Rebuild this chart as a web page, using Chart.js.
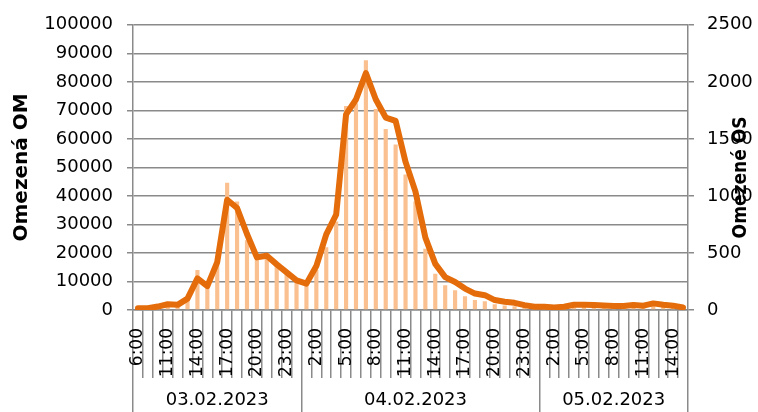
<!DOCTYPE html>
<html>
<head>
<meta charset="utf-8">
<script src="https://cdn.jsdelivr.net/npm/chart.js@4"></script>
<style>
  body { margin: 0; background: #fff; }
  canvas { display: block; }
</style>
</head>
<body>
<canvas id="chart" width="758" height="412"></canvas>
<script>
// hodiny (3.2. od 6:00, 4.2. celý den, 5.2. do 15:00)
const hours = [
  '6:00', '9:00', '10:00', '11:00', '12:00', '13:00', '14:00', '15:00', '16:00',
  '17:00', '18:00', '19:00', '20:00', '21:00', '22:00', '23:00', '0:00',
  '1:00', '2:00', '3:00', '4:00', '5:00', '6:00', '7:00', '8:00', '9:00', '10:00',
  '11:00', '12:00', '13:00', '14:00', '15:00', '16:00', '17:00', '18:00', '19:00',
  '20:00', '21:00', '22:00', '23:00', '0:00',
  '1:00', '2:00', '3:00', '4:00', '5:00', '6:00', '7:00', '8:00', '9:00', '10:00',
  '11:00', '12:00', '13:00', '14:00', '15:00'
];

const days = ['03.02.2023', '04.02.2023', '05.02.2023'];
const dayStart = [0, 17, 41];   // první hodina každého dne
const dayMid = [8, 28, 48];     // kam se píše datum

// Omezená OM (sloupce, levá osa)
const omezenaOM = [
  500, 600, 800, 1500, 1800, 4000, 14000, 9000, 17000,
  44600, 38000, 24500, 18500, 20000, 15500, 12500, 9800,
  9000, 14000, 22000, 31000, 71500, 72500, 87600, 70500, 63500, 58000,
  47500, 38000, 21500, 12700, 8700, 6900, 4800, 3500, 3100,
  2000, 1600, 1300, 1000, 600,
  500, 500, 600, 1000, 1100, 1000, 900, 800, 800, 1000,
  900, 1400, 1100, 900, 500
];

// Omezené OS (čára, pravá osa)
const omezeneOS = [
  15, 15, 30, 50, 45, 100, 277, 210, 420,
  966, 894, 666, 461, 476, 400, 330, 260,
  231, 385, 663, 836, 1715, 1845, 2076, 1845, 1687, 1658,
  1298, 1038, 634, 404, 288, 245, 188, 144, 130,
  87, 72, 63, 43, 29,
  29, 23, 29, 46, 46, 43, 40, 35, 35, 43,
  38, 58, 46, 38, 23
];

const FONT = '"DejaVu Sans", sans-serif';
const GRID = '#8a8a8a';

// pravý popisek osy je otočený stejně jako levý (zdola nahoru)
const rightTitle = {
  id: 'rightTitle',
  afterDraw(chart) {
    const { ctx, chartArea } = chart;
    ctx.save();
    ctx.translate(chart.width - 17, (chartArea.top + chartArea.bottom) / 2 + 10);
    ctx.rotate(-Math.PI / 2);
    ctx.font = 'bold 20px ' + FONT;
    ctx.fillStyle = '#000';
    ctx.textAlign = 'center';
    ctx.textBaseline = 'middle';
    ctx.fillText('Omezené OS', 0, 0, 122);
    ctx.restore();
  }
};

new Chart(document.getElementById('chart'), {
  type: 'bar',
  data: {
    labels: hours,
    datasets: [
      {
        type: 'line',
        label: 'Omezené OS',
        data: omezeneOS,
        xAxisID: 'x',
        yAxisID: 'y1',
        borderColor: '#E46C0A',
        borderWidth: 6,
        pointRadius: 0,
        tension: 0,
        borderJoinStyle: 'round',
        borderCapStyle: 'round',
        order: 0,
      },
      {
        label: 'Omezená OM',
        data: omezenaOM,
        xAxisID: 'x',
        yAxisID: 'y',
        backgroundColor: '#FAC090',
        barPercentage: 0.42,
        categoryPercentage: 1.0,
        order: 1,
      },
    ],
  },
  options: {
    responsive: false,
    animation: false,
    layout: { padding: { top: 21, left: 0, right: 0, bottom: 0 } },
    plugins: {
      legend: { display: false },
      tooltip: { enabled: false },
    },
    scales: {
      x: {
        position: 'bottom',
        offset: true,
        grid: { offset: true, drawOnChartArea: false, tickLength: 68, color: GRID, lineWidth: 1.5 },
        border: { color: GRID, width: 1.5 },
        ticks: {
          autoSkip: false,
          minRotation: 90,
          maxRotation: 90,
          padding: -50,
          color: '#000',
          font: { family: FONT, size: 17 },
          callback: (v, i) => (i % 3 === 0 ? hours[i] : ''),
        },
        afterFit: s => { s.height = 68; },
      },
      x2: {
        type: 'category',
        position: 'bottom',
        labels: hours,
        offset: true,
        grid: {
          offset: true,
          drawOnChartArea: false,
          tickLength: 34,
          lineWidth: 1.5,
          color: c => (c.type !== 'tick' || dayStart.includes(c.index) ? GRID : 'rgba(0,0,0,0)'),
        },
        border: { display: false },
        ticks: {
          autoSkip: false,
          maxRotation: 0,
          minRotation: 0,
          padding: -22,
          color: '#000',
          font: { family: FONT, size: 18 },
          callback: (v, i) => {
            const k = dayMid.indexOf(i);
            return k >= 0 ? days[k] : '';
          },
        },
        afterFit: s => { s.height = 34; },
      },
      y: {
        position: 'left',
        min: 0,
        max: 100000,
        ticks: {
          stepSize: 10000,
          padding: 14,
          color: '#000',
          font: { family: FONT, size: 18 },
          callback: v => String(v),
        },
        grid: { color: GRID, lineWidth: 1.5, tickLength: 6 },
        border: { color: GRID, width: 1.5 },
        title: {
          display: true,
          text: 'Omezená OM',
          color: '#000',
          font: { family: FONT, size: 20, weight: 'bold' },
          padding: { top: 10, bottom: 0 },
        },
        afterFit: s => { s.width = 133; },
      },
      y1: {
        position: 'right',
        min: 0,
        max: 2500,
        ticks: {
          stepSize: 500,
          padding: 13,
          color: '#000',
          font: { family: FONT, size: 18 },
          callback: v => String(v),
        },
        grid: { drawOnChartArea: false, color: GRID, lineWidth: 1.5, tickLength: 6 },
        border: { color: GRID, width: 1.5 },
        afterFit: s => { s.width = 70; },
      },
    },
  },
  plugins: [rightTitle],
});
</script>
</body>
</html>
